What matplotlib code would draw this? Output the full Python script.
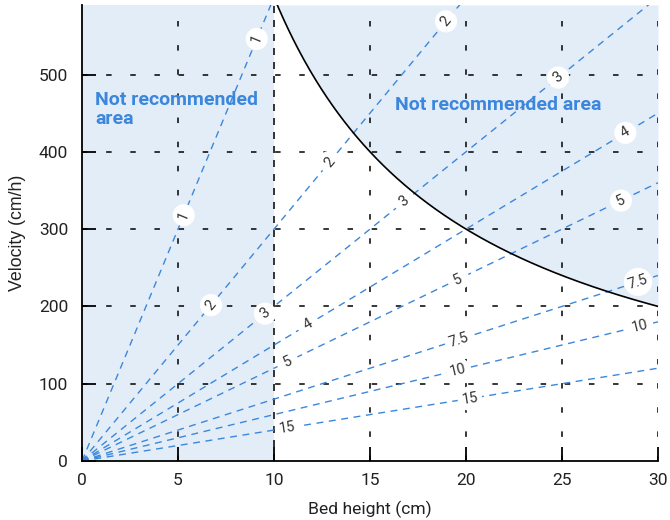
import numpy as np
import matplotlib
matplotlib.use("Agg")
import matplotlib.pyplot as plt

# Residence times (min) for the iso-time lines, v = 60 * h / t
residence_times = [1, 2, 3, 4, 5, 7.5, 10, 15]
time_labels = ["1", "2", "3", "4", "5", "7.5", "10", "15"]
# Bed heights (cm) along each line where its label is placed
label_heights = {
    1: [5.3, 9.1],
    2: [6.72, 12.9, 18.96],
    3: [9.53, 16.8, 24.8],
    4: [11.77, 28.3],
    5: [10.7, 19.6, 28.07],
    7.5: [19.6, 28.96],
    10: [19.6, 29.06],
    15: [10.68, 20.2],
}
# Pressure limit: velocity * bed height = constant (cm^2/h)
pressure_limit = 6000
min_bed_height = 10
x_ticks = [0, 5, 10, 15, 20, 25, 30]
y_ticks = [0, 100, 200, 300, 400, 500]
x_max, y_max = 30, 590

shade = "#e3edf8"
blue = "#3c87dc"
label_color = "#333333"

plt.rcParams["font.family"] = ["Roboto", "DejaVu Sans"]

fig = plt.figure(figsize=(6.7, 5.2), dpi=100)
ax = fig.add_axes([0.1224, 0.1135, 0.8597, 0.877])
ax.set_xlim(0, x_max)
ax.set_ylim(0, y_max)

# Shaded regions: bed too low, and pressure limit exceeded
ax.axvspan(0, min_bed_height, color=shade, lw=0, zorder=0)
h = np.linspace(min_bed_height, x_max, 400)
v_limit = pressure_limit / h
ax.fill_between(h, v_limit, y_max, color=shade, lw=0, zorder=0)

# Grid
for xv in x_ticks[1:]:
    if xv == min_bed_height:
        continue
    ax.plot([xv, xv], [0, y_max], color="black", lw=1.1,
            dashes=(3.6, 12.2), zorder=1)
for yv in y_ticks[1:]:
    ax.plot([0, x_max], [yv, yv], color="black", lw=1.1,
            dashes=(3.6, 12.2), zorder=1)
ax.plot([min_bed_height, min_bed_height], [0, y_max], color="#333333",
        lw=1.4, dashes=(3.6, 3.6), zorder=1)

# Pressure limit curve
ax.plot(h, v_limit, color="black", lw=1.2, zorder=3)

# Iso residence-time lines
hx = np.array([0, x_max])
for t in residence_times:
    ax.plot(hx, 60 * hx / t, color=blue, lw=1.0, dashes=(5.0, 4.0),
            zorder=2, clip_on=True)

fig.canvas.draw()
for t, lab in zip(residence_times, time_labels):
    slope = 60 / t
    p0 = ax.transData.transform((0, 0))
    p1 = ax.transData.transform((1, slope))
    ang = np.degrees(np.arctan2(p1[1] - p0[1], p1[0] - p0[0]))
    for xh in label_heights[t]:
        ax.text(xh, slope * xh, lab, rotation=ang, rotation_mode="anchor",
                ha="center", va="center", fontsize=10.5, color=label_color,
                zorder=4,
                bbox=dict(boxstyle="circle,pad=0.28", fc="white", ec="none"))

# Region annotations
note = dict(color=blue, fontsize=14, fontweight="bold", ha="left",
            va="baseline", zorder=5)
ax.text(0.68, 461, "Not recommended", **note)
ax.text(0.68, 436.5, "area", **note)
ax.text(16.3, 454, "Not recommended area", **note)

# Axes styling
for side in ["top", "right"]:
    ax.spines[side].set_visible(False)
for side in ["left", "bottom"]:
    ax.spines[side].set_linewidth(1.3)
    ax.spines[side].set_zorder(6)
ax.set_xticks(x_ticks)
ax.set_yticks(y_ticks)
ax.tick_params(direction="in", length=10, width=1.3, labelsize=12.5,
               colors="black", labelcolor="#222222", pad=10)
ax.tick_params(axis="x", pad=9)
ax.set_xlabel("Bed height (cm)", fontsize=12.6, color="#222222", va="center")
ax.set_ylabel("Velocity (cm/h)", fontsize=12.8, color="#222222",
              family=["Liberation Sans", "DejaVu Sans"], va="center")
ax.xaxis.set_label_coords(0.5, (461 - 509) / 456)
ax.yaxis.set_label_coords((17 - 82) / 576, 0.5)

fig.savefig("out.png", dpi=100)
